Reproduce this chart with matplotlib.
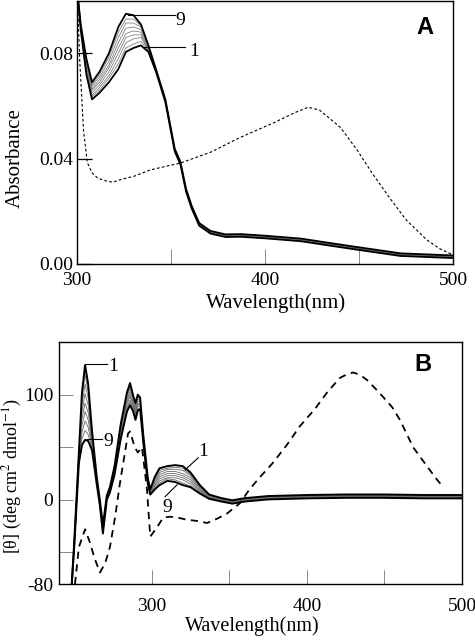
import numpy as np
import matplotlib.pyplot as plt

plt.rcParams['font.family'] = 'Liberation Serif'
plt.rcParams['mathtext.fontset'] = 'stix'
plt.rcParams['axes.unicode_minus'] = False
plt.rcParams['font.size'] = 14

# ---------------- panel A : absorbance, spectra 1..9 ----------------
wl_a_head = [300, 302, 305, 308, 312, 317, 322, 326, 330, 334, 338]
abs_a_head = [
    [0.105, 0.089, 0.072, 0.0625, 0.0650, 0.0690, 0.0740, 0.0805, 0.0820, 0.0830, 0.0805],
    [0.105, 0.089, 0.073, 0.0635, 0.0660, 0.0705, 0.0760, 0.0820, 0.0835, 0.0845, 0.0810],
    [0.105, 0.090, 0.074, 0.0640, 0.0670, 0.0715, 0.0780, 0.0840, 0.0855, 0.0860, 0.0812],
    [0.105, 0.090, 0.075, 0.0650, 0.0680, 0.0730, 0.0800, 0.0860, 0.0870, 0.0870, 0.0815],
    [0.105, 0.090, 0.075, 0.0660, 0.0690, 0.0745, 0.0820, 0.0875, 0.0885, 0.0880, 0.0818],
    [0.105, 0.090, 0.076, 0.0665, 0.0700, 0.0755, 0.0840, 0.0895, 0.0900, 0.0890, 0.0820],
    [0.105, 0.091, 0.077, 0.0675, 0.0710, 0.0770, 0.0860, 0.0915, 0.0915, 0.0900, 0.0825],
    [0.105, 0.091, 0.077, 0.0680, 0.0720, 0.0785, 0.0880, 0.0930, 0.0930, 0.0905, 0.0828],
    [0.105, 0.091, 0.078, 0.0690, 0.0730, 0.0800, 0.0900, 0.0950, 0.0945, 0.0910, 0.0830],
]
wl_a_tail = [342, 347, 350, 352, 355, 358, 361, 365, 371, 379, 387, 400, 419, 445, 472, 500]
abs_a_tail = [0.0735, 0.062, 0.0507, 0.0432, 0.0383, 0.028, 0.0215, 0.0150, 0.0120,
              0.0107, 0.0108, 0.0102, 0.0091, 0.0063, 0.0035, 0.0027]
spread_a = [-0.0005, -0.0004, -0.0002, -0.0001, 0.0, 0.0001, 0.0002, 0.0004, 0.0005]

# dashed reference spectrum
wl_a_dash = [300, 301.5, 303.5, 305.5, 308, 311, 315, 319, 324, 330, 339, 355, 371, 387,
             404, 416, 423, 429, 440, 449, 457, 466, 475, 486, 493, 500]
abs_a_dash = [0.105, 0.077, 0.0506, 0.0385, 0.0346, 0.0326, 0.0316, 0.0310, 0.0322, 0.0332,
              0.0357, 0.0383, 0.0424, 0.0481, 0.0534, 0.0575, 0.0595, 0.0584, 0.0519,
              0.0432, 0.0344, 0.0253, 0.0167, 0.0091, 0.0057, 0.0034]

# ---------------- panel B : CD, spectra 1..9 ----------------
wl_b_head = [248, 250, 253, 255, 257, 259, 261.5, 264.5, 266.5, 268.5, 271, 273, 276, 280,
             284, 286, 288, 289.5, 291, 292.5, 294.5, 297.5, 299, 302, 305, 310, 315, 320,
             325, 331, 337]
cd_b_head = [
    [-90, -40, 45, 102, 128, 110, 65, 22, 0, -24, 4, 12, 32, 72, 102, 111, 99, 92, 100, 97, 62, 20, 10, 22, 30, 32, 33, 32, 26, 14, 5],
    [-90, -41, 44, 96, 119, 103, 63, 21, -1, -25, 3, 11, 31, 70, 100, 108, 97, 90, 98, 96, 61, 19, 9, 20, 28, 30, 31, 30, 24, 13, 4],
    [-90, -41, 42, 90, 110, 97, 60, 20, -1, -26, 3, 11, 30, 68, 97, 106, 95, 88, 96, 94, 60, 19, 9, 19, 26, 29, 29, 28, 23, 12, 4],
    [-90, -42, 41, 83, 101, 90, 58, 19, -2, -27, 2, 10, 29, 67, 95, 103, 93, 86, 94, 93, 59, 18, 8, 17, 24, 27, 27, 25, 21, 11, 3],
    [-90, -42, 40, 77, 92, 83, 56, 18, -2, -28, 2, 9, 28, 65, 93, 100, 91, 84, 92, 91, 58, 17, 7, 16, 22, 25, 25, 23, 19, 10, 3],
    [-90, -43, 39, 71, 84, 76, 54, 18, -3, -29, 1, 9, 27, 63, 91, 98, 90, 82, 91, 90, 58, 17, 7, 14, 20, 23, 23, 21, 17, 9, 2],
    [-90, -44, 37, 64, 75, 69, 51, 17, -4, -30, 1, 8, 26, 61, 88, 95, 88, 80, 89, 89, 57, 16, 6, 13, 18, 21, 21, 19, 15, 8, 2],
    [-90, -44, 36, 58, 66, 62, 49, 16, -4, -31, 0, 8, 25, 60, 86, 93, 86, 78, 87, 87, 56, 16, 6, 11, 16, 20, 19, 16, 13, 7, 1],
    [-90, -45, 35, 52, 57, 56, 47, 15, -5, -32, 0, 7, 24, 58, 84, 90, 84, 76, 85, 86, 55, 15, 5, 10, 14, 18, 17, 14, 12, 6, 1],
]
wl_b_tail = [345, 352, 360, 375, 400, 425, 450, 475, 500]
cd_b_tail = [0, -2, 0, 2, 3, 3.5, 3.5, 3, 3]
spread_b = [1.6, 1.2, 0.8, 0.4, 0, -0.4, -0.8, -1.2, -1.6]

wl_b_dash = [250.5, 253, 257, 260, 263, 266.6, 270, 273, 276.5, 279.5, 284.7, 286, 289, 291,
             293.7, 296.9, 299, 303.4, 307.3, 311.8, 317, 322.8, 329, 335.6, 342, 348.5, 357,
             363, 370, 378, 387, 395.5, 405, 413, 421.4, 425.5, 429.8, 434, 438.7, 444, 449,
             455, 460, 468.5, 477.4, 484, 488]
cd_b_dash = [-80, -45, -28, -40, -55, -69, -60, -45, -15, 16, 63, 65, 50, 45, 50, 10, -35,
             -26, -17, -16, -17, -19, -20, -22, -18, -13, -3, 10, 22, 35, 52, 70, 86, 102,
             116, 119, 121, 119, 114, 106, 98, 88, 76, 50, 32, 19, 12]


def draw_set(ax, wl_head, rows, wl_tail, tail, spread, lw_edge, lw_mid):
    x = list(wl_head) + list(wl_tail)
    order = list(range(1, len(rows) - 1)) + [0, len(rows) - 1]
    for i in order:
        y = list(rows[i]) + [t + spread[i] for t in tail]
        if i in (0, len(rows) - 1):
            ax.plot(x, y, c='k', lw=lw_edge, zorder=3)
        else:
            ax.plot(x, y, c='#6a6a6a', lw=lw_mid, zorder=2)


fig = plt.figure(figsize=(4.75, 6.42), dpi=100)

# ---- A ----
axA = fig.add_axes([0.162, 0.589, 0.792, 0.410])
draw_set(axA, wl_a_head, abs_a_head, wl_a_tail, abs_a_tail, spread_a, 1.3, 0.5)
axA.plot(wl_a_dash, abs_a_dash, c='k', lw=0.8, ls=(0, (2.5, 2)), zorder=2)
axA.set_xlim(300, 500)
axA.set_ylim(0, 0.1)
axA.set_xticks([300, 400, 500])
axA.set_xticks([350, 450], minor=True)
axA.set_yticks([0, 0.04, 0.08])
axA.set_yticklabels(['0.00', '0.04', '0.08'])
axA.tick_params(axis='x', which='both', direction='in', length=11, width=0.7,
                color='#888888', pad=6)
axA.tick_params(axis='y', direction='in', length=11, width=0.9, color='k', pad=3)
axA.set_xlabel('Wavelength(nm)', fontsize=15)
axA.set_ylabel('Absorbance', fontsize=15)
axA.xaxis.set_label_coords(0.529, -0.110)
axA.yaxis.set_label_coords(-0.138, 0.403)
axA.text(0.926, 0.897, 'A', transform=axA.transAxes, family='Liberation Sans',
         weight='bold', fontsize=17, ha='center', va='center')
axA.plot([327, 352], [0.0947, 0.0947], c='k', lw=0.8)
axA.text(352.5, 0.0925, '9', ha='left', va='center', fontsize=14)
axA.plot([335, 357.5], [0.0822, 0.0822], c='k', lw=0.8)
axA.text(359.5, 0.0805, '1', ha='left', va='center', fontsize=14)

# ---- B ----
axB = fig.add_axes([0.1236, 0.0903, 0.849, 0.377])
draw_set(axB, wl_b_head, cd_b_head, wl_b_tail, cd_b_tail, spread_b, 1.4, 0.6)
axB.plot(wl_b_dash, cd_b_dash, c='k', lw=1.3, ls=(0, (4, 3)), zorder=2)
axB.set_xlim(240, 500)
axB.set_ylim(-80, 150)
axB.set_xticks([300, 400, 500])
axB.set_xticks([350, 450], minor=True)
axB.set_yticks([-80, 0, 100])
axB.set_yticklabels(['-80', '0', '100'])
axB.set_yticks([-50, 50], minor=True)
axB.tick_params(axis='x', which='both', direction='in', length=10, width=0.7,
                color='#888888', pad=10)
axB.tick_params(axis='y', which='both', direction='in', length=10, width=0.7,
                color='#888888', pad=4)
axB.set_xlabel('Wavelength(nm)', fontsize=14.5)
axB.set_ylabel('[θ] (deg cm$^2$ dmol$^{-1}$)', fontsize=13)
axB.xaxis.set_label_coords(0.48, -0.135)
axB.yaxis.set_label_coords(-0.085, 0.446)
axB.text(0.903, 0.905, 'B', transform=axB.transAxes, family='Liberation Sans',
         weight='bold', fontsize=17, ha='center', va='center')
axB.plot([257, 271], [129.5, 129.5], c='k', lw=0.8)
axB.text(272, 127, '1', ha='left', va='center', fontsize=14)
axB.plot([258, 268], [58, 58], c='k', lw=0.8)
axB.text(268.6, 55, '9', ha='left', va='center', fontsize=14)
axB.plot([321.5, 330], [28.6, 40], c='k', lw=0.8)
axB.text(333, 46, '1', ha='center', va='center', fontsize=14)
axB.plot([316.3, 308.6], [14.3, 3], c='k', lw=0.8)
axB.text(309.8, -7, '9', ha='center', va='center', fontsize=14)

for ax in (axA, axB):
    for s in ax.spines.values():
        s.set_linewidth(1.0)

fig.savefig('out.png', dpi=100)
